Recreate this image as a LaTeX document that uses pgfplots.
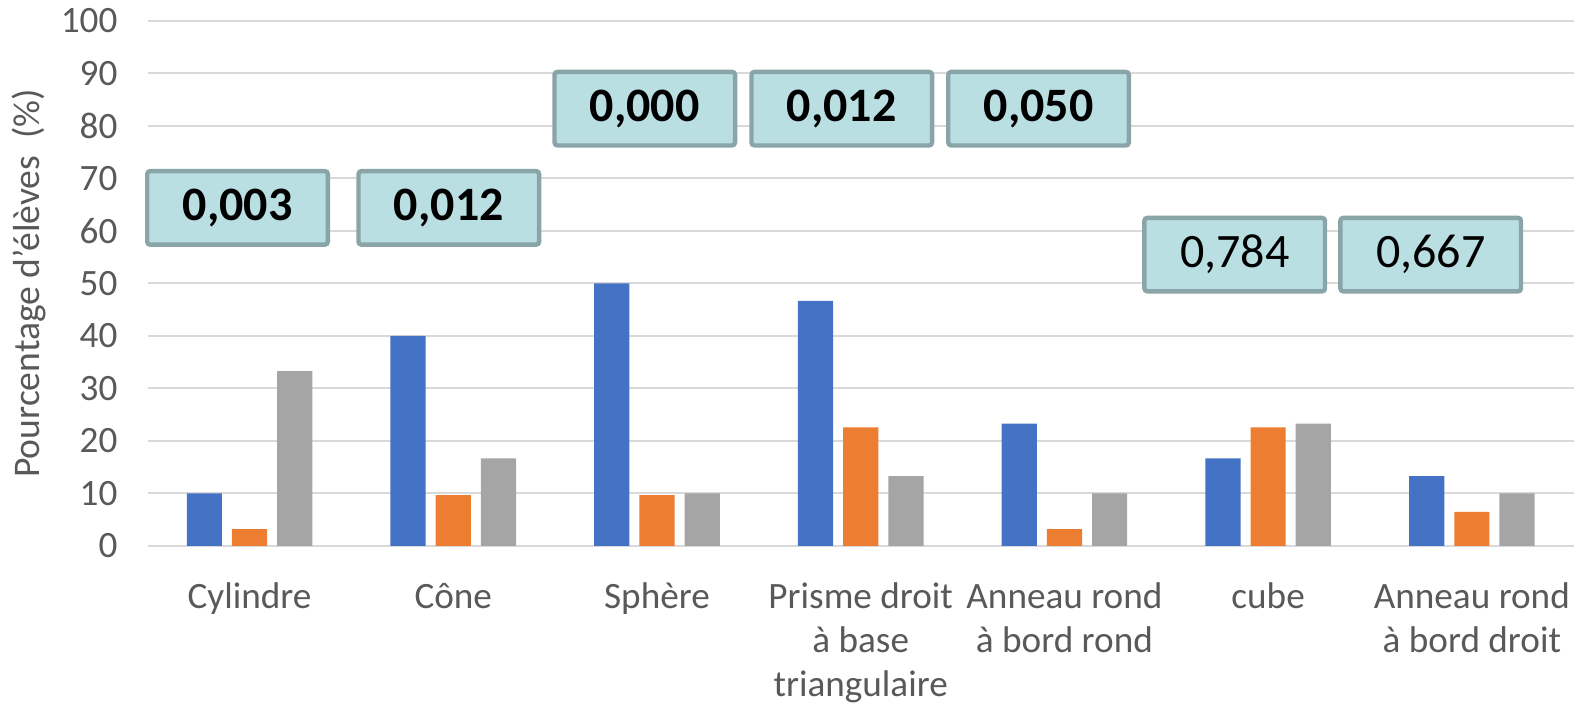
\documentclass[border=0pt]{standalone}
\usepackage{fontspec}
\setmainfont{Carlito}
\usepackage{pgfplots}
\pgfplotsset{compat=1.18}
\definecolor{cblue}{HTML}{4472C4}
\definecolor{corange}{HTML}{ED7D31}
\definecolor{cgray}{HTML}{A5A5A5}
\definecolor{gridc}{HTML}{D9D9D9}
\definecolor{txt}{HTML}{595959}
\definecolor{boxfill}{HTML}{BADFE3}
\definecolor{boxdraw}{HTML}{8AA5A8}
\begin{document}
\begin{tikzpicture}
\useasboundingbox (-73.85pt,-79.5pt) rectangle (715.15pt,273pt);
\begin{axis}[
  at={(0,0)}, anchor=south west, scale only axis,
  width=713pt, height=262.5pt,
  ymin=0, ymax=100, ytick={0,10,...,100},
  xmin=-0.5, xmax=6.5, xtick={0,...,6},
  xticklabels={\strut Cylindre, \strut Cône, \strut Sphère, {\strut Prisme droit\\à base\\triangulaire}, {\strut Anneau rond\\à bord rond}, \strut cube, {\strut Anneau rond\\à bord droit}},
  ybar=5pt, bar width=17.6pt,
  axis line style={draw=none},
  major tick length=0pt,
  ymajorgrids, grid style={gridc, line width=1pt},
  tick label style={font=\fontsize{18.6}{22}\selectfont, text=txt},
  xticklabel style={align=center, yshift=-12.5pt},
  yticklabel style={xshift=-11.6pt},
  /pgf/number format/assume math mode=true,
  ylabel={Pourcentage d'élèves\ \ (\%)},
  ylabel style={font=\fontsize{18.8}{22}\selectfont, text=txt, at={(axis description cs:-0.0835,0.5)}, anchor=center},
  clip=false,
]
\addplot[fill=cblue, draw=none] coordinates {(0,10) (1,40) (2,50) (3,46.7) (4,23.3) (5,16.7) (6,13.3)};
\addplot[fill=corange, draw=none] coordinates {(0,3.2) (1,9.7) (2,9.7) (3,22.6) (4,3.2) (5,22.6) (6,6.5)};
\addplot[fill=cgray, draw=none] coordinates {(0,33.3) (1,16.7) (2,10) (3,13.3) (4,10) (5,23.3) (6,10)};
\tikzset{pbox/.style={draw=boxdraw, fill=boxfill, line width=2.2pt, rounded corners=1.5pt, minimum width=90.3pt, minimum height=36.8pt, inner sep=0pt, text=black}}
\node[pbox, font=\fontsize{24}{28}\selectfont\bfseries] at (axis cs:-0.059,64.4) {0,003};
\node[pbox, font=\fontsize{24}{28}\selectfont\bfseries] at (axis cs:0.978,64.4) {0,012};
\node[pbox, font=\fontsize{24}{28}\selectfont\bfseries] at (axis cs:1.940,83.3) {0,000};
\node[pbox, font=\fontsize{24}{28}\selectfont\bfseries] at (axis cs:2.907,83.3) {0,012};
\node[pbox, font=\fontsize{24}{28}\selectfont\bfseries] at (axis cs:3.873,83.3) {0,050};
\node[pbox, font=\fontsize{24}{28}\selectfont] at (axis cs:4.836,55.5) {0,784};
\node[pbox, font=\fontsize{24}{28}\selectfont] at (axis cs:5.798,55.5) {0,667};
\end{axis}
\end{tikzpicture}
\end{document}
